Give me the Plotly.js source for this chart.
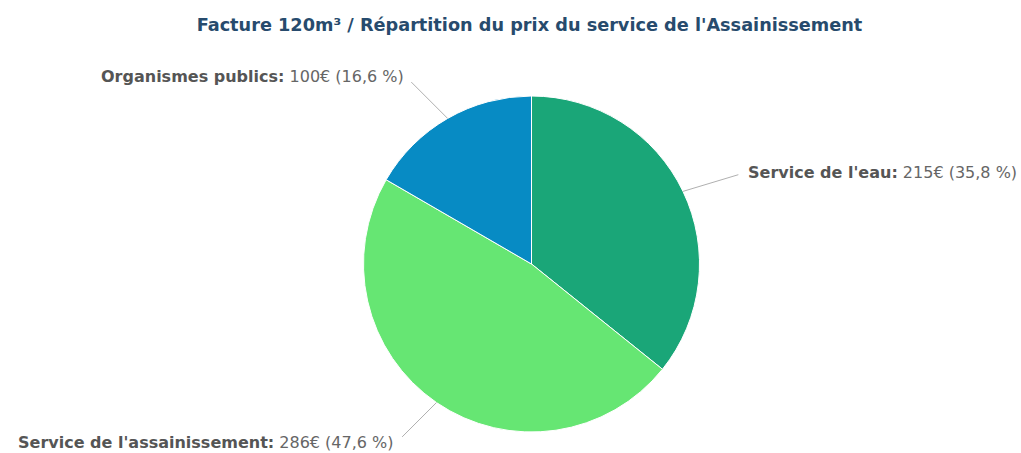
<!DOCTYPE html>
<html>
<head>
<meta charset="utf-8">
<script src="https://cdn.plot.ly/plotly-3.0.1.min.js"></script>
<style>html,body{margin:0;padding:0;background:#fff;}#chart{width:1021px;height:453px;}</style>
</head>
<body>
<div id="chart"></div>
<script>
const titleText = "Facture 120m³ / Répartition du prix du service de l'Assainissement";
const categories = ["Service de l'eau", "Service de l'assainissement", "Organismes publics"];
const values = [215, 286, 100];
const colors = ["#1aa678", "#66e673", "#078bc4"];

const W = 1021, H = 453;
const dom = {x: [363 / W, 700 / W], y: [1 - 432 / H, 1 - 96 / H]};
const cx = (dom.x[0] + dom.x[1]) / 2 * W;
const cy = (1 - (dom.y[0] + dom.y[1]) / 2) * H;
const r = Math.min((dom.x[1] - dom.x[0]) * W, (dom.y[1] - dom.y[0]) * H) / 2;

const total = values.reduce((a, b) => a + b, 0);
// label placement (pixel offsets from slice edge to label) and anchors
const labelLayout = [
  {ax: 63, ay: -19, xanchor: 'left'},
  {ax: -40, ay: 40, xanchor: 'right'},
  {ax: -42, ay: -42, xanchor: 'right'}
];

const annotations = [];
let cum = 0;
values.forEach((v, i) => {
  const mid = (cum + v / 2) / total * 2 * Math.PI;
  cum += v;
  const ex = cx + r * Math.sin(mid);
  const ey = cy - r * Math.cos(mid);
  const pct = (v / total * 100).toFixed(1).replace('.', ',');
  annotations.push({
    x: ex / W, y: 1 - ey / H, xref: 'paper', yref: 'paper',
    ax: labelLayout[i].ax, ay: labelLayout[i].ay,
    axref: 'pixel', ayref: 'pixel',
    xanchor: labelLayout[i].xanchor, yanchor: 'middle',
    showarrow: true, arrowhead: 0, arrowwidth: 1, arrowcolor: '#b0b0b0',
    startstandoff: 8,
    text: '<b><span style="color:#555555">' + categories[i] + ':</span></b> ' + v + '€ (' + pct + ' %)',
    font: {family: 'Tahoma, Verdana, "DejaVu Sans", sans-serif', size: 16, color: '#666666'}
  });
});

const data = [{
  type: 'pie',
  labels: categories,
  values: values,
  sort: false,
  direction: 'clockwise',
  rotation: 0,
  textinfo: 'none',
  hoverinfo: 'label+value+percent',
  marker: {colors: colors, line: {color: '#ffffff', width: 1}},
  domain: dom,
  showlegend: false
}];

const layout = {
  width: W, height: H,
  margin: {l: 0, r: 0, t: 0, b: 0},
  paper_bgcolor: '#ffffff',
  title: {
    text: '<b>' + titleText + '</b>',
    x: 529.5 / W, xanchor: 'center', xref: 'paper',
    y: 1 - 25 / H, yanchor: 'middle', yref: 'container',
    font: {family: 'Tahoma, Verdana, "DejaVu Sans", sans-serif', size: 17.7, color: '#274b6d'}
  },
  annotations: annotations
};

Plotly.newPlot('chart', data, layout, {displayModeBar: false, staticPlot: true});
</script>
</body>
</html>
